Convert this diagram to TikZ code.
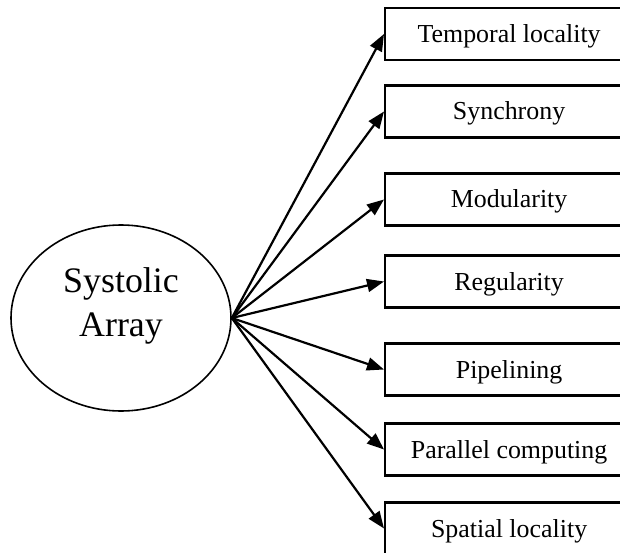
\documentclass[tikz,border=0pt]{standalone}
\usepackage{fontspec}
\setmainfont{Liberation Serif}
\usetikzlibrary{arrows.meta,shapes.geometric}
\begin{document}
\begin{tikzpicture}[x=1bp,y=-1bp,
  hub/.style={draw, ellipse, line width=1.6bp, minimum width=220bp, minimum height=186bp, inner sep=0pt},
  hubtext/.style={align=center, inner sep=0pt, font=\fontsize{36}{44}\selectfont},
  prop/.style={draw, line width=2.2bp, minimum width=248bp, minimum height=52bp, inner sep=0pt,
    text height=20bp, text depth=3bp, font=\fontsize{26}{30}\selectfont, anchor=west},
  link/.style={line width=2.2bp, -{Triangle[length=17bp,width=13bp]}}]
\clip (0,0) rectangle (620,553);

% central concept
\node[hub] (sa) at (121,318) {};
\node[hubtext] (salabel) at (121,306) {Systolic\\Array};

% properties
\node[prop] (p1) at (384,34)    {Temporal locality};
\node[prop] (p2) at (384,111.5) {Synchrony};
\node[prop] (p3) at (384,199.5) {Modularity};
\node[prop] (p4) at (384,281.5) {Regularity};
\node[prop] (p5) at (384,369.5) {Pipelining};
\node[prop] (p6) at (384,449.5) {Parallel computing};
\node[prop] (p7) at (384,528.5) {Spatial locality};

% connectors
\foreach \p in {p1,p2,p3,p4,p5,p6,p7}
  \draw[link] (sa.east) -- (\p.west);
\end{tikzpicture}
\end{document}
